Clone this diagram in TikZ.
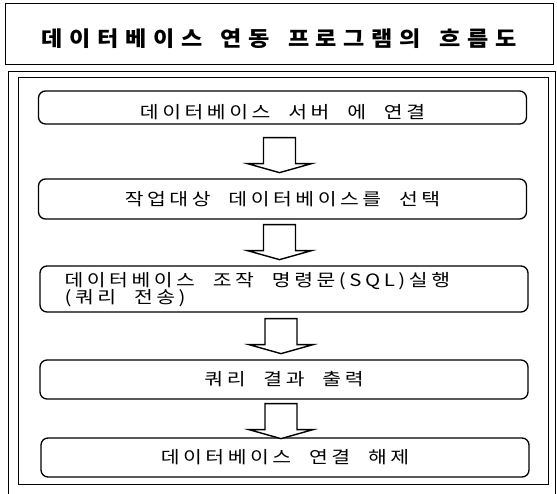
\documentclass[tikz,border=0pt]{standalone}
\usepackage{fontspec}
\usetikzlibrary{calc}
\newcommand\korf{\fontspec{Noto Sans CJK KR}[FakeStretch=1.2,LetterSpace=21,WordSpace=2.2]\fontsize{17}{17}\selectfont\lineskiplimit=-30pt\lineskip=0pt}
\newcommand\kortitle{\fontspec{Noto Sans CJK KR}[FakeStretch=1.1,LetterSpace=32,WordSpace=1.5]\bfseries\fontsize{21}{24}\selectfont}
\tikzset{
  x=1pt, y=1pt,
  framebox/.style={draw, line width=0.9pt},
  stepbox/.style={draw, rounded corners=7pt, line width=1.3pt, minimum width=488pt, inner sep=0pt, font=\korf, text height=13.6pt, text depth=1.2pt},
  blockarr/.style={draw, fill=white, line width=1.4pt, line join=miter},
}
\newcommand\flowarrow[2]{%
  \path (#1.south) ++(-3,-#2) coordinate (at#1);
  \draw[blockarr] ($(at#1)+(-16,0)$) -- ++(0,-26) -- ++(-16,0) -- ++(32,-9) -- ++(32,9) -- ++(-16,0) -- ++(0,26) -- cycle;
}
\begin{document}
\begin{tikzpicture}
\useasboundingbox (0,0) rectangle (557,494);
% title
\node[framebox, minimum width=548pt, minimum height=61pt, inner sep=0pt] (tbox) at (279,460) {};
\node[font=\kortitle, inner sep=0pt] (title) at (279,455) {데이터베이스 연동 프로그램의 흐름도};
% frames
\draw[framebox] (8,0) -- (8,423) -- (555,423) -- (555,0);
\node[framebox, minimum width=530pt, minimum height=407pt, inner sep=0pt] (inner) at (283,213.5) {};
% steps
\node[stepbox, minimum height=33pt, text height=24pt] (b1) at (282.5,386.5) {데이터베이스 서버 에 연결};
\node[stepbox, minimum height=40pt] (b2) at (282.5,295) {작업대상 데이터베이스를 선택};
\node[stepbox, minimum height=46pt] (b3) at (284,205) {};
\node[anchor=west, align=left, inner sep=0pt, font=\korf] (b3t) at ($(b3.west)+(25,-1)$) {데이터베이스 조작 명령문(SQL)실행\\(쿼리 전송)};
\node[stepbox, minimum height=39pt] (b4) at (284,114.5) {쿼리 결과 출력};
\node[stepbox, minimum height=39pt] (b5) at (285,36.5) {데이터베이스 연결 해제};
% arrows
\flowarrow{b1}{13}
\flowarrow{b2}{5}
\flowarrow{b3}{6}
\flowarrow{b4}{4}
\end{tikzpicture}
\end{document}
